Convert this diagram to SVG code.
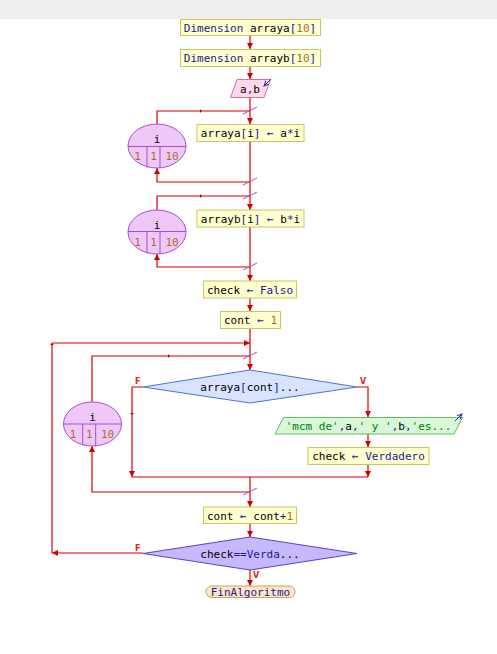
<svg xmlns="http://www.w3.org/2000/svg" width="497" height="654" viewBox="0 0 497 654">
<defs>
<marker id="ah" markerUnits="userSpaceOnUse" markerWidth="8" markerHeight="8" refX="6" refY="3" orient="auto"><path d="M0,0 L6,3 L0,6 z" fill="#d00000"/></marker>
<marker id="tk" markerUnits="userSpaceOnUse" markerWidth="6" markerHeight="6" refX="2" refY="2" orient="auto"><path d="M0,0 L2,2 L0,4 z" fill="#d00000"/></marker>
<marker id="ba" markerUnits="userSpaceOnUse" markerWidth="8" markerHeight="8" refX="5" refY="2.5" orient="auto"><path d="M0,0 L5,2.5 L0,5" fill="none" stroke="#2030c0" stroke-width="1"/></marker>
</defs>
<style>
text{font-family:"DejaVu Sans Mono","Liberation Mono",monospace;font-size:11px;fill:#000}
.c{text-anchor:middle}
.kw{fill:#1a1a90}
.num{fill:#a87030}
.op{fill:#1a1a90}
.str{fill:#008000}
.box{fill:#ffffd0;stroke:#c8c860;stroke-width:1}
.ell{fill:#f0c8f8;stroke:#a050d0;stroke-width:1}
.ln{fill:none;stroke:#d80000;stroke-width:1.2}
.sl{stroke:#a050d0;stroke-width:1}
.lbl{font-family:"DejaVu Sans","Liberation Sans",sans-serif;font-size:8px;fill:#e02020;font-weight:bold}
</style>
<rect x="0" y="0" width="497" height="19" fill="#eeeeee"/>

<g id="connectors">
<path class="ln" d="M250,36 V49" marker-end="url(#ah)"/>
<path class="ln" d="M250,67 V79" marker-end="url(#ah)"/>
<path class="ln" d="M250,97 V124" marker-end="url(#ah)"/>
<path class="ln" d="M157,124 V111 H202" marker-end="url(#tk)"/>
<path class="ln" d="M202,111 H250"/>
<path class="ln" d="M250,142 V210" marker-end="url(#ah)"/>
<path class="ln" d="M250,182 H157 V168" marker-end="url(#ah)"/>
<path class="ln" d="M157,210 V196 H202" marker-end="url(#tk)"/>
<path class="ln" d="M202,196 H250"/>
<path class="ln" d="M250,227 V281" marker-end="url(#ah)"/>
<path class="ln" d="M250,267 H157 V254" marker-end="url(#ah)"/>
<path class="ln" d="M250,298 V311" marker-end="url(#ah)"/>
<path class="ln" d="M250,328 V370" marker-end="url(#ah)"/>
<path class="ln" d="M92,402 V356 H170" marker-end="url(#tk)"/>
<path class="ln" d="M170,356 H250"/>
<path class="ln" d="M357,387 H368 V417" marker-end="url(#ah)"/>
<path class="ln" d="M368,434 V447" marker-end="url(#ah)"/>
<path class="ln" d="M368,465 V477" marker-end="url(#ah)"/>
<path class="ln" d="M143,387 H132 V415" marker-end="url(#tk)"/>
<path class="ln" d="M132,415 V477" marker-end="url(#ah)"/>
<path class="ln" d="M132,477 H368"/>
<path class="ln" d="M250,477 V507" marker-end="url(#ah)"/>
<path class="ln" d="M250,492 H92 V446" marker-end="url(#ah)"/>
<path class="ln" d="M250,523 V537" marker-end="url(#ah)"/>
<path class="ln" d="M143,553 H52" marker-end="url(#ah)"/>
<path class="ln" d="M52,553 V343" marker-end="url(#tk)"/>
<path class="ln" d="M52,343 H250" marker-end="url(#ah)"/>
<path class="ln" d="M250,570 V586" marker-end="url(#ah)"/>
<line class="sl" x1="243" y1="114" x2="257" y2="107"/>
<line class="sl" x1="243" y1="185" x2="257" y2="178"/>
<line class="sl" x1="243" y1="199" x2="257" y2="192"/>
<line class="sl" x1="243" y1="270" x2="257" y2="263"/>
<line class="sl" x1="243" y1="359" x2="257" y2="352"/>
<line class="sl" x1="243" y1="495" x2="257" y2="488"/>
<text class="lbl" x="135" y="384">F</text>
<text class="lbl" x="360" y="384">V</text>
<text class="lbl" x="135" y="551">F</text>
<text class="lbl" x="253" y="578">V</text>
</g>

<g id="n1"><rect class="box" x="180.5" y="19.5" width="140" height="16"/>
<text x="250" y="31.5" class="c"><tspan class="kw">Dimension</tspan> arraya<tspan class="kw">[</tspan><tspan class="num">10</tspan><tspan class="kw">]</tspan></text></g>
<g id="n2"><rect class="box" x="180.5" y="49.5" width="140" height="17"/>
<text x="250" y="62" class="c"><tspan class="kw">Dimension</tspan> arrayb<tspan class="kw">[</tspan><tspan class="num">10</tspan><tspan class="kw">]</tspan></text></g>
<g id="n3"><path d="M237,79.5 H270.5 L264,97.5 H230.5 Z" fill="#ffd8ec" stroke="#d070a0"/>
<text x="250" y="92.5" class="c">a<tspan class="kw">,</tspan>b</text>
<line x1="271" y1="79" x2="264" y2="86" stroke="#2030c0" stroke-width="1" marker-end="url(#ba)"/></g>

<g id="n4"><ellipse class="ell" cx="157" cy="146" rx="29" ry="22"/>
<line x1="128" y1="146.5" x2="186" y2="146.5" stroke="#a050d0"/>
<line x1="147" y1="146.5" x2="147" y2="167.5" stroke="#a050d0"/>
<line x1="160" y1="146.5" x2="160" y2="167.8" stroke="#a050d0"/>
<text x="157" y="143" class="c">i</text>
<text x="137.5" y="160" class="c num">1</text><text x="153.5" y="160" class="c num">1</text><text x="172" y="160" class="c num">10</text></g>
<g id="n5"><rect class="box" x="197" y="124.5" width="107" height="17"/>
<text x="250.5" y="137" class="c">arraya<tspan class="kw">[</tspan>i<tspan class="kw">]</tspan> <tspan class="op">←</tspan> a<tspan class="kw">*</tspan>i</text></g>

<g id="n6"><ellipse class="ell" cx="157" cy="232" rx="29" ry="22"/>
<line x1="128" y1="231.5" x2="186" y2="231.5" stroke="#a050d0"/>
<line x1="147" y1="231.5" x2="147" y2="253.5" stroke="#a050d0"/>
<line x1="160" y1="231.5" x2="160" y2="253.8" stroke="#a050d0"/>
<text x="157" y="228.5" class="c">i</text>
<text x="137.5" y="245.5" class="c num">1</text><text x="153.5" y="245.5" class="c num">1</text><text x="172" y="245.5" class="c num">10</text></g>
<g id="n7"><rect class="box" x="197" y="210" width="107" height="17"/>
<text x="250.5" y="222.5" class="c">arrayb<tspan class="kw">[</tspan>i<tspan class="kw">]</tspan> <tspan class="op">←</tspan> b<tspan class="kw">*</tspan>i</text></g>

<g id="n8"><rect class="box" x="203.5" y="281" width="93" height="17"/>
<text x="250" y="293.5" class="c">check <tspan class="op">←</tspan> <tspan class="kw">Falso</tspan></text></g>
<g id="n9"><rect class="box" x="220.5" y="311.5" width="60" height="17"/>
<text x="250.5" y="324" class="c">cont <tspan class="op">←</tspan> <tspan class="num">1</tspan></text></g>

<g id="n10"><path d="M250,370 L357,387 L250,403 L143,387 Z" fill="#d8e4ff" stroke="#5070d0"/>
<text x="250" y="391" class="c">arraya<tspan class="kw">[</tspan>cont<tspan class="kw">]</tspan>...</text></g>
<g id="n11"><path d="M283.5,417.5 H462.5 L454,434 H275 Z" fill="#d8f8d8" stroke="#60c060"/>
<text x="368.5" y="429.5" class="c"><tspan class="str">'mcm de'</tspan><tspan class="kw">,</tspan>a<tspan class="kw">,</tspan><tspan class="str">' y '</tspan><tspan class="kw">,</tspan>b<tspan class="kw">,</tspan><tspan class="str">'es...</tspan></text>
<line x1="455" y1="421" x2="462" y2="414" stroke="#2030c0" stroke-width="1" marker-end="url(#ba)"/></g>
<g id="n12"><rect class="box" x="308" y="447.5" width="121" height="17"/>
<text x="368.5" y="460" class="c">check <tspan class="op">←</tspan> <tspan class="kw">Verdadero</tspan></text></g>

<g id="n13"><ellipse class="ell" cx="92.5" cy="424" rx="29" ry="22"/>
<line x1="63.5" y1="424" x2="121.5" y2="424" stroke="#a050d0"/>
<line x1="82.7" y1="424" x2="82.7" y2="445.3" stroke="#a050d0"/>
<line x1="95.7" y1="424" x2="95.7" y2="445.8" stroke="#a050d0"/>
<text x="92.5" y="421" class="c">i</text>
<text x="73" y="438" class="c num">1</text><text x="89.2" y="438" class="c num">1</text><text x="107.5" y="438" class="c num">10</text></g>

<g id="n14"><rect class="box" x="203.5" y="507" width="93" height="16.5"/>
<text x="250" y="519.5" class="c">cont <tspan class="op">←</tspan> cont<tspan class="kw">+</tspan><tspan class="num">1</tspan></text></g>
<g id="n15"><path d="M250,537 L357,553.5 L250,570 L143,553.5 Z" fill="#c8b8ff" stroke="#6040c0"/>
<text x="250" y="557.5" class="c">check<tspan class="kw">==Verda</tspan>...</text></g>
<g id="n16"><rect x="206" y="586" width="89" height="11.5" rx="5.75" fill="#fde5c5" stroke="#d0a060"/>
<text x="250.5" y="595.5" class="c kw">FinAlgoritmo</text></g>
</svg>
